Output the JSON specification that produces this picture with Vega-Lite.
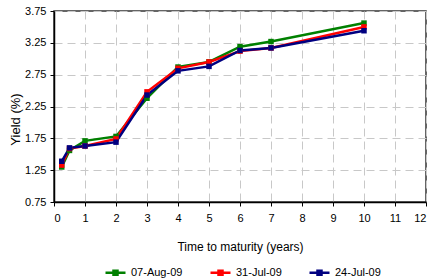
{
  "$schema": "https://vega.github.io/schema/vega-lite/v6.json",
  "width": 372,
  "height": 191,
  "autosize": {"type": "none"},
  "padding": {"left": 54, "top": 11, "right": 5, "bottom": 78},
  "background": "white",
  "config": {
    "font": "Liberation Sans",
    "view": {"stroke": "#333333", "strokeWidth": 1.5},
    "axis": {"labelFontSize": 11, "titleFontSize": 12, "titleFontWeight": "normal", "labelColor": "#000", "titleColor": "#000", "domainColor": "#000", "domainWidth": 1.5, "tickColor": "#000", "gridColor": "#c8c8c8", "gridDash": [8, 5], "gridWidth": 1}
  },
  "data": {"values": [
    {"t": 0.25, "y": 1.30, "s": "07-Aug-09"},
    {"t": 0.5, "y": 1.56, "s": "07-Aug-09"},
    {"t": 1, "y": 1.71, "s": "07-Aug-09"},
    {"t": 2, "y": 1.78, "s": "07-Aug-09"},
    {"t": 3, "y": 2.38, "s": "07-Aug-09"},
    {"t": 4, "y": 2.87, "s": "07-Aug-09"},
    {"t": 5, "y": 2.95, "s": "07-Aug-09"},
    {"t": 6, "y": 3.19, "s": "07-Aug-09"},
    {"t": 7, "y": 3.27, "s": "07-Aug-09"},
    {"t": 10, "y": 3.56, "s": "07-Aug-09"},
    {"t": 0.25, "y": 1.33, "s": "31-Jul-09"},
    {"t": 0.5, "y": 1.59, "s": "31-Jul-09"},
    {"t": 1, "y": 1.63, "s": "31-Jul-09"},
    {"t": 2, "y": 1.74, "s": "31-Jul-09"},
    {"t": 3, "y": 2.48, "s": "31-Jul-09"},
    {"t": 4, "y": 2.85, "s": "31-Jul-09"},
    {"t": 5, "y": 2.95, "s": "31-Jul-09"},
    {"t": 6, "y": 3.12, "s": "31-Jul-09"},
    {"t": 7, "y": 3.17, "s": "31-Jul-09"},
    {"t": 10, "y": 3.50, "s": "31-Jul-09"},
    {"t": 0.25, "y": 1.39, "s": "24-Jul-09"},
    {"t": 0.5, "y": 1.60, "s": "24-Jul-09"},
    {"t": 1, "y": 1.63, "s": "24-Jul-09"},
    {"t": 2, "y": 1.69, "s": "24-Jul-09"},
    {"t": 3, "y": 2.43, "s": "24-Jul-09"},
    {"t": 4, "y": 2.81, "s": "24-Jul-09"},
    {"t": 5, "y": 2.88, "s": "24-Jul-09"},
    {"t": 6, "y": 3.13, "s": "24-Jul-09"},
    {"t": 7, "y": 3.17, "s": "24-Jul-09"},
    {"t": 10, "y": 3.44, "s": "24-Jul-09"}
  ]},
  "mark": {"type": "line", "strokeWidth": 2.5, "point": {"shape": "square", "size": 30, "filled": true}},
  "encoding": {
    "x": {"field": "t", "type": "quantitative", "title": "Time to maturity (years)",
      "scale": {"domain": [0, 12], "nice": false},
      "axis": {"values": [0,1,2,3,4,5,6,7,8,9,10,11,12], "tickSize": 4, "labelPadding": 6, "titlePadding": 18}},
    "y": {"field": "y", "type": "quantitative", "title": "Yield (%)",
      "scale": {"domain": [0.75, 3.75], "nice": false, "zero": false},
      "axis": {"values": [0.75,1.25,1.75,2.25,2.75,3.25,3.75], "format": ".2f", "tickSize": 4, "labelPadding": 4, "titleX": -32, "titleY": 108, "titleFontSize": 13, "titleAngle": -90, "titleBaseline": "bottom", "titleAlign": "center"}},
    "color": {"field": "s", "type": "nominal", "sort": ["07-Aug-09", "31-Jul-09", "24-Jul-09"],
      "scale": {"domain": ["07-Aug-09", "31-Jul-09", "24-Jul-09"], "range": ["#008000", "#ff0000", "#000080"]},
      "legend": {"title": null, "orient": "none", "legendX": 50, "legendY": 250, "direction": "horizontal", "labelFontSize": 11, "labelColor": "#000", "columnPadding": 22, "symbolStrokeWidth": 2.5, "symbolSize": 400, "symbolType": "M-1,0H1M-0.2,-0.2H0.2V0.2H-0.2Z"}}
  }
}
